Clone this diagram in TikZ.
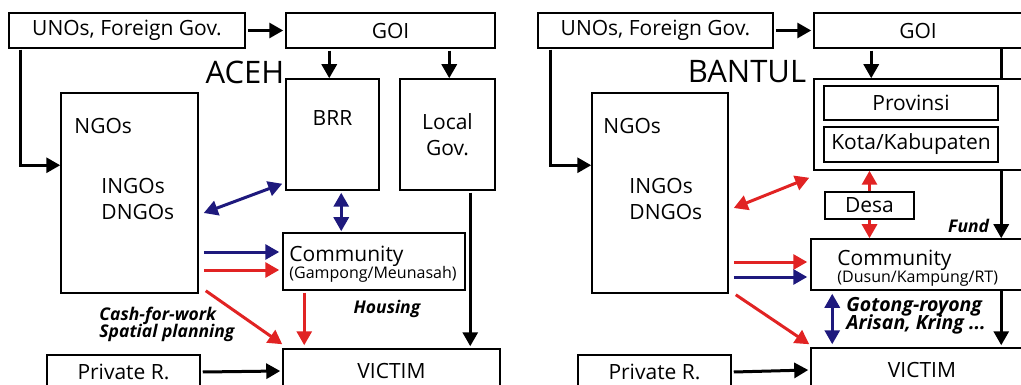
\documentclass[tikz,border=0pt]{standalone}
\usepackage{fontspec}
\setmainfont{Open Sans}
\usepackage{tikz}
\usetikzlibrary{arrows.meta,fit}
\definecolor{aidBlue}{RGB}{30,25,125}
\definecolor{aidRed}{RGB}{225,35,35}

\begin{document}
\begin{tikzpicture}[x=1pt,y=-1pt,
	box/.style={draw,line width=1.5pt,fill=white,inner sep=0pt},
	lbl/.style={inner sep=0pt,font=\fontsize{21}{26}\selectfont},
	small/.style={inner sep=0pt,font=\fontsize{16}{18}\selectfont},
	note/.style={inner sep=0pt,font=\fontsize{17.5}{20}\selectfont\bfseries\itshape},
	bignote/.style={note,font=\fontsize{19.5}{22}\selectfont\bfseries\itshape},
	title/.style={inner sep=0pt,font=\fontsize{31}{36}\selectfont},
	arr/.style={-{Triangle[length=14pt,width=15pt]},line width=3pt},
	darr/.style={{Triangle[length=14pt,width=15pt]}-{Triangle[length=14pt,width=15pt]},line width=3pt}]
		\useasboundingbox (0,0) rectangle (1021,385);
		\clip (0,0) rectangle (1021,385);
		\newcommand{\drawBox}[6]{
			\node[box,fit={(#2,#3) (#4,#5)}] (#1) {};
			\node[lbl] (#1t) at (#1.center) {#6};
		}
		% Aceh
		\drawBox{unoA}{9}{13}{245}{48}{UNOs, Foreign Gov.}
		\drawBox{goiA}{286}{13}{495}{48}{GOI}
		\drawBox{brr}{286}{79}{379}{190}{}
		\drawBox{lgov}{400}{79}{495}{190}{}
		\drawBox{ngoA}{61}{93}{198}{293}{}
		\drawBox{comA}{283}{233}{465}{290}{}
		\drawBox{vicA}{283}{349}{500}{393}{VICTIM}
		\drawBox{priA}{47}{355}{200}{389}{Private R.}
		\node[title] (titA) at (245,72) {ACEH};
		\node[lbl,anchor=west] (ngoAt) at ([shift={(14,34)}]ngoA.north west) {NGOs};
		\node[lbl,anchor=west,align=left] (ingoA) at ([shift={(41,107)}]ngoA.north west) {INGOs\\DNGOs};
		\node[lbl] (brrt) at ([yshift=-40pt]brr.north) {BRR};
		\node[lbl,align=center] (lgovt) at ([yshift=-56pt]lgov.north) {Local\\Gov.};
		\node[lbl,anchor=base west] (comAt) at ([shift={(7,29)}]comA.north west) {Community};
		\node[small,anchor=base west] (comAs) at ([shift={(7,46)}]comA.north west) {(Gampong/Meunasah)};
		\node[note,anchor=base] (house) at ([shift={(13,23)}]comA.south) {Housing};
		\node[note,anchor=base west] (cash) at ([shift={(39,27)}]ngoA.south west) {Cash-for-work};
		\node[note,anchor=base west] (plan) at ([shift={(39,44)}]ngoA.south west) {Spatial planning};

		\draw[arr] ([xshift=2pt]unoA.east) -- ([xshift=-2pt]goiA.west);
		\draw[arr] ([shift={(44,2)}]goiA.south west) -- ([xshift=44pt]brr.north west);
		\draw[arr] ([shift={(164,2)}]goiA.south west) -- ([xshift=50pt]lgov.north west);
		\draw[arr] ([shift={(12,1)}]unoA.south west) |- ([yshift=-73pt]ngoA.north west);
		\draw[darr,aidBlue] ([shift={(5,20)}]ngoA.east) -- ([shift={(-3,-7)}]brr.south west);
		\draw[darr,aidBlue] ([shift={(56,2)}]brr.south west) -- ([shift={(59,-1)}]comA.north west);
		\draw[arr,aidBlue] ([shift={(5,59)}]ngoA.east) -- ([shift={(-3,-9.5)}]comA.west);
		\draw[arr,aidRed] ([shift={(5,77)}]ngoA.east) -- ([shift={(-3,8.5)}]comA.west);
		\draw[arr,aidRed] ([shift={(7,-3)}]ngoA.south east) -- ([shift={(0,-4)}]vicA.north west);
		\draw[arr,aidRed] ([shift={(22,2)}]comA.south west) -- ([shift={(22,-3)}]vicA.north west);
		\draw[arr] ([shift={(71,2)}]lgov.south west) -- ([shift={(188,-2)}]vicA.north west);
		\draw[arr] ([xshift=2pt]priA.east) -- ([xshift=-2pt]vicA.west);

		% Bantul
		\drawBox{unoB}{538}{13}{773}{48}{UNOs, Foreign Gov.}
		\drawBox{goiB}{814}{13}{1022}{48}{GOI}
		\drawBox{govB}{814}{79}{1024}{170}{}
		\drawBox{prov}{824}{86}{998}{120}{Provinsi}
		\drawBox{kota}{824}{127}{998}{162}{Kota/Kabupaten}
		\drawBox{desa}{825}{192}{914}{219}{Desa}
		\drawBox{comB}{811}{239}{1024}{290}{}
		\drawBox{ngoB}{592}{93}{728}{293}{}
		\drawBox{vicB}{811}{348}{1033}{392}{VICTIM}
		\drawBox{priB}{578}{355}{731}{389}{Private R.}
		\node[title] (titB) at (747,72) {BANTUL};
		\node[lbl,anchor=west] (ngoBt) at ([shift={(12,34)}]ngoB.north west) {NGOs};
		\node[lbl,anchor=west,align=left] (ingoB) at ([shift={(38,107)}]ngoB.north west) {INGOs\\DNGOs};
		\node[lbl,anchor=base west] (comBt) at ([shift={(27,27)}]comB.north west) {Community};
		\node[small,anchor=base west] (comBs) at ([shift={(27,44)}]comB.north west) {(Dusun/Kampung/RT)};
		\node[note,anchor=base east] (fund) at ([shift={(179,-6)}]comB.north west) {Fund};
		\node[bignote,anchor=base west] (goto) at ([shift={(36,21)}]comB.south west) {Gotong-royong};
		\node[bignote,anchor=base west] (aris) at ([shift={(36,39)}]comB.south west) {Arisan, Kring ...};

		\draw[arr] ([xshift=2pt]unoB.east) -- ([xshift=-2pt]goiB.west);
		\draw[arr] ([shift={(58,2)}]goiB.south west) -- ([xshift=58pt]govB.north west);
		\draw[line width=3pt] ([xshift=188pt]goiB.south west) -- ([xshift=188pt]govB.north west);
		\draw[arr] ([xshift=188pt]govB.south west) -- ([xshift=191pt]comB.north west);
		\draw[arr] ([xshift=191pt]comB.south west) -- ([shift={(191,-2)}]vicB.north west);
		\draw[arr] ([shift={(13,1)}]unoB.south west) |- ([yshift=-73pt]ngoB.north west);
		\draw[darr,aidRed] ([shift={(5,15)}]ngoB.east) -- ([shift={(-4,7)}]govB.south west);
		\draw[arr,aidRed] (desa.north) -- (desa.north |- govB.south);
		\draw[arr,aidRed] (desa.south) -- (desa.south |- comB.north);
		\draw[arr,aidRed] ([shift={(5,69)}]ngoB.east) -- ([shift={(-3,-2.5)}]comB.west);
		\draw[arr,aidBlue] ([shift={(5,84)}]ngoB.east) -- ([shift={(-3,12.5)}]comB.west);
		\draw[arr,aidRed] ([shift={(7,1)}]ngoB.south east) -- ([shift={(-1,-3)}]vicB.north west);
		\draw[darr,aidBlue] ([shift={(22,3)}]comB.south west) -- ([shift={(22,-3)}]vicB.north west);
		\draw[arr] ([xshift=2pt]priB.east) -- ([xshift=-2pt]vicB.west);
\end{tikzpicture}
\end{document}
